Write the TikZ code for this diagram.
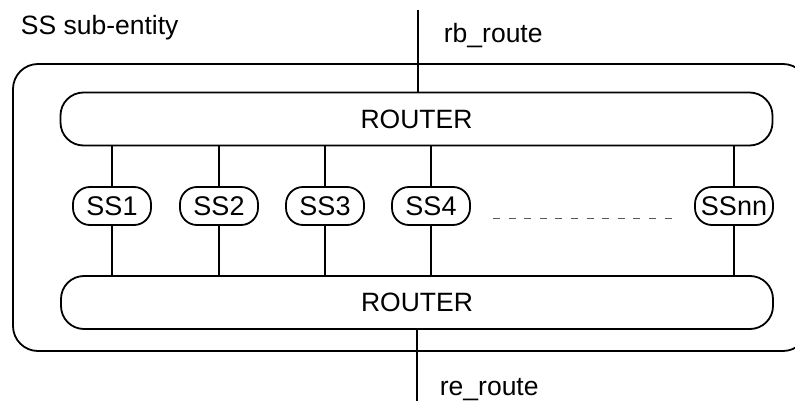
\documentclass[tikz,border=0pt]{standalone}
\usepackage{fontspec}
\setmainfont{Liberation Sans}
\usetikzlibrary{positioning}
\begin{document}
\begin{tikzpicture}[x=1pt,y=-1pt,
  line width=1.8pt,
  txt/.style={font=\fontsize{26.5pt}{30pt}\selectfont, inner sep=0pt},
  router/.style={draw, rounded corners=23pt, minimum width=712pt, minimum height=53pt, inner sep=0pt, font=\fontsize{26.5pt}{30pt}\selectfont},
  ssbox/.style={draw, rounded corners=17pt, minimum width=78pt, minimum height=38pt, inner sep=0pt, font=\fontsize{27pt}{30pt}\selectfont},
  link/.style={line width=1.8pt},
  dots/.style={line width=1pt, draw=black!65, dash pattern=on 7pt off 8.6pt}]
\useasboundingbox (0,0) rectangle (795,401);
\clip (0,0) rectangle (795,401);
% outer entity box
\draw[rounded corners=25pt] (13,64) rectangle (808,351);
\node[txt, anchor=base west] (title) at (20,35) {SS sub-entity};
% routers
\node[router] (rtop) at (416.5,119) {ROUTER};
\node[router] (rbot) at (417,302.5) {ROUTER};
% SS nodes
\node[ssbox] (ss1) at (112,206) {SS1};
\node[ssbox] (ss2) at (219,206) {SS2};
\node[ssbox] (ss3) at (325,206) {SS3};
\node[ssbox] (ss4) at (431,206) {SS4};
\node[ssbox] (ssnn) at (734,206) {SSnn};
% links
\foreach \n in {ss1,ss2,ss3,ss4,ssnn}{
  \draw[link] (rtop.south -| \n.north) -- (\n.north);
  \draw[link] (\n.south) -- (rbot.north -| \n.south);
}
% dashed continuation
\coordinate (d1) at (493,218);
\coordinate (d2) at (672,218);
\draw[dots] (d1) -- (d2);
% external routes
\coordinate (rbend) at (418,10);
\coordinate (reend) at (417,405);
\draw[link] (rbend) -- (rtop.north -| rbend);
\draw[link] (rbot.south -| reend) -- (reend);
\node[txt, anchor=base west] (rb) at (443,43) {rb\_route};
\node[txt, anchor=base west] (re) at (439,395) {re\_route};
\end{tikzpicture}
\end{document}
